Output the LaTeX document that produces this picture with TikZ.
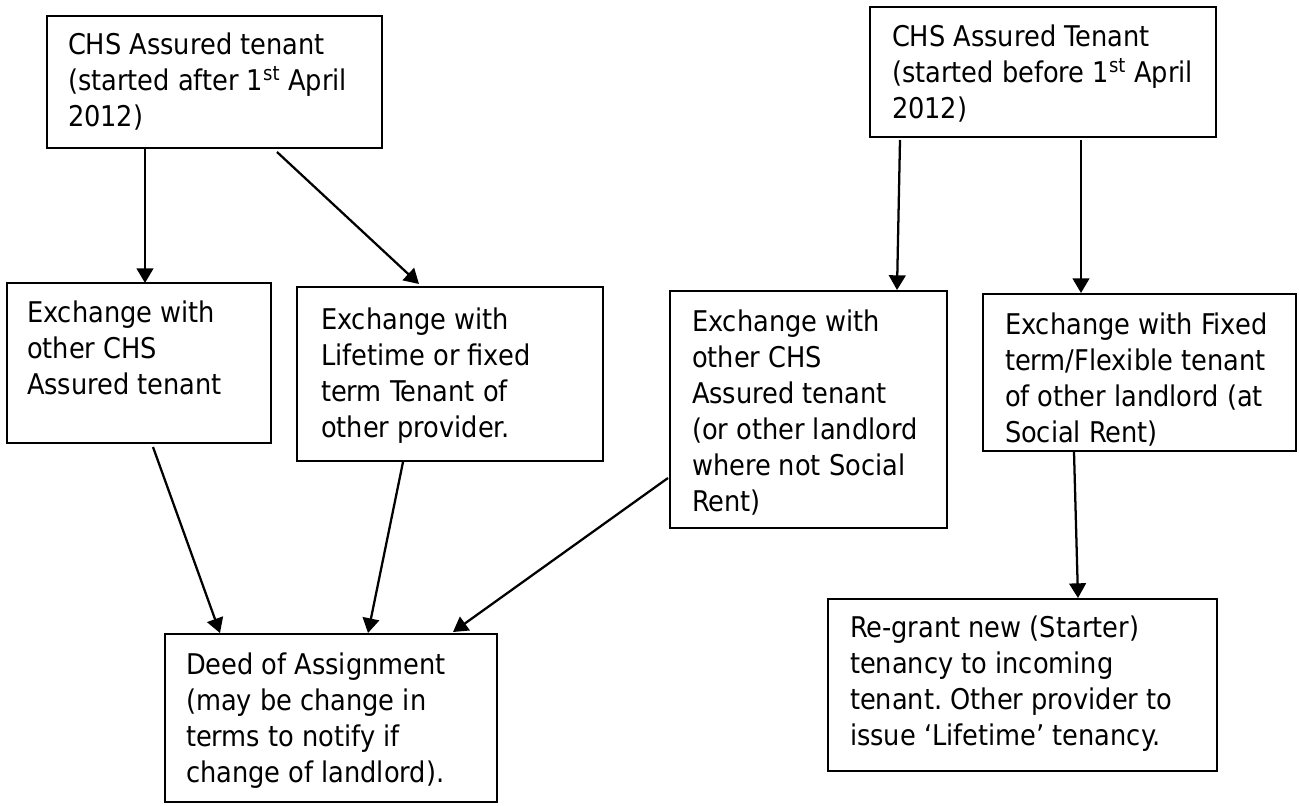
\documentclass[tikz,border=0pt]{standalone}
\usepackage{fontspec}
\setmainfont{DejaVu Sans Condensed}
\usetikzlibrary{arrows.meta,calc}
\begin{document}
\frenchspacing
\begin{tikzpicture}[x=0.75pt,y=-0.75pt,
  box/.style={draw,line width=1.6pt,anchor=north west,inner sep=0pt,outer sep=0pt},
  txt/.style={anchor=north west,inner sep=0pt,outer sep=0pt,align=left,font=\fontsize{21.4pt}{27pt}\selectfont},
  arr/.style={line width=1.7pt,-{Triangle[length=11pt,width=12.5pt]}}]
\useasboundingbox (0,0) rectangle (1299,806);
% boxes
\node[box,minimum width=251.25pt,minimum height=99pt] (b1) at (47,16) {};
\node[box,minimum width=259.5pt,minimum height=97.5pt] (b2) at (870,7) {};
\node[box,minimum width=198pt,minimum height=120pt] (b3) at (7,283) {};
\node[box,minimum width=229.5pt,minimum height=130.5pt] (b4) at (297,287) {};
\node[box,minimum width=207.75pt,minimum height=177.75pt] (b5) at (670,291) {};
\node[box,minimum width=234.75pt,minimum height=117.75pt] (b6) at (983,294) {};
\node[box,minimum width=249pt,minimum height=126pt] (b7) at (165,634) {};
\node[box,minimum width=291.75pt,minimum height=129pt] (b8) at (828,599) {};
% texts
\node[txt] (t1) at (68,33) {CHS Assured tenant\\(started after 1\textsuperscript{st} April\\2012)};
\node[txt] (t2) at (892,25) {CHS Assured Tenant\\(started before 1\textsuperscript{st} April\\2012)};
\node[txt] (t3) at (27,301) {Exchange with\\other CHS\\Assured tenant};
\node[txt] (t4) at (321,308) {Exchange with\\Lifetime or fixed\\term Tenant of\\other provider.};
\node[txt] (t5) at (692,310) {Exchange with\\other CHS\\Assured tenant\\(or other landlord\\where not Social\\Rent)};
\node[txt] (t6) at (1005,313) {Exchange with Fixed\\term/Flexible tenant\\of other landlord (at\\Social Rent)};
\node[txt] (t7) at (186,653) {Deed of Assignment\\(may be change in\\terms to notify if\\change of landlord).};
\node[txt] (t8) at (850,616) {Re-grant new (Starter)\\tenancy to incoming\\tenant. Other provider to\\issue ‘Lifetime’ tenancy.};
% connectors
\draw[arr] ($(b1.south west)+(98,0)$) -- ($(b3.north west)+(138,0)$);
\draw[arr] ($(b1.south west)+(230,4)$) -- ($(b4.north west)+(122,-3)$);
\draw[arr] ($(b2.south west)+(30,3)$) -- ($(b5.north west)+(227,-1)$);
\draw[arr] ($(b2.south west)+(211,3)$) -- ($(b6.north west)+(98,-1)$);
\draw[arr] ($(b3.south west)+(146,4)$) -- ($(b7.north west)+(55,-1)$);
\draw[arr] ($(b4.south west)+(106,1)$) -- ($(b7.north west)+(203,-1)$);
\draw[arr] ($(b5.south west)+(-2,-50)$) -- ($(b7.north west)+(288,-2)$);
\draw[arr] ($(b6.south west)+(91,1)$) -- ($(b8.north west)+(250,-1)$);
\end{tikzpicture}
\end{document}
